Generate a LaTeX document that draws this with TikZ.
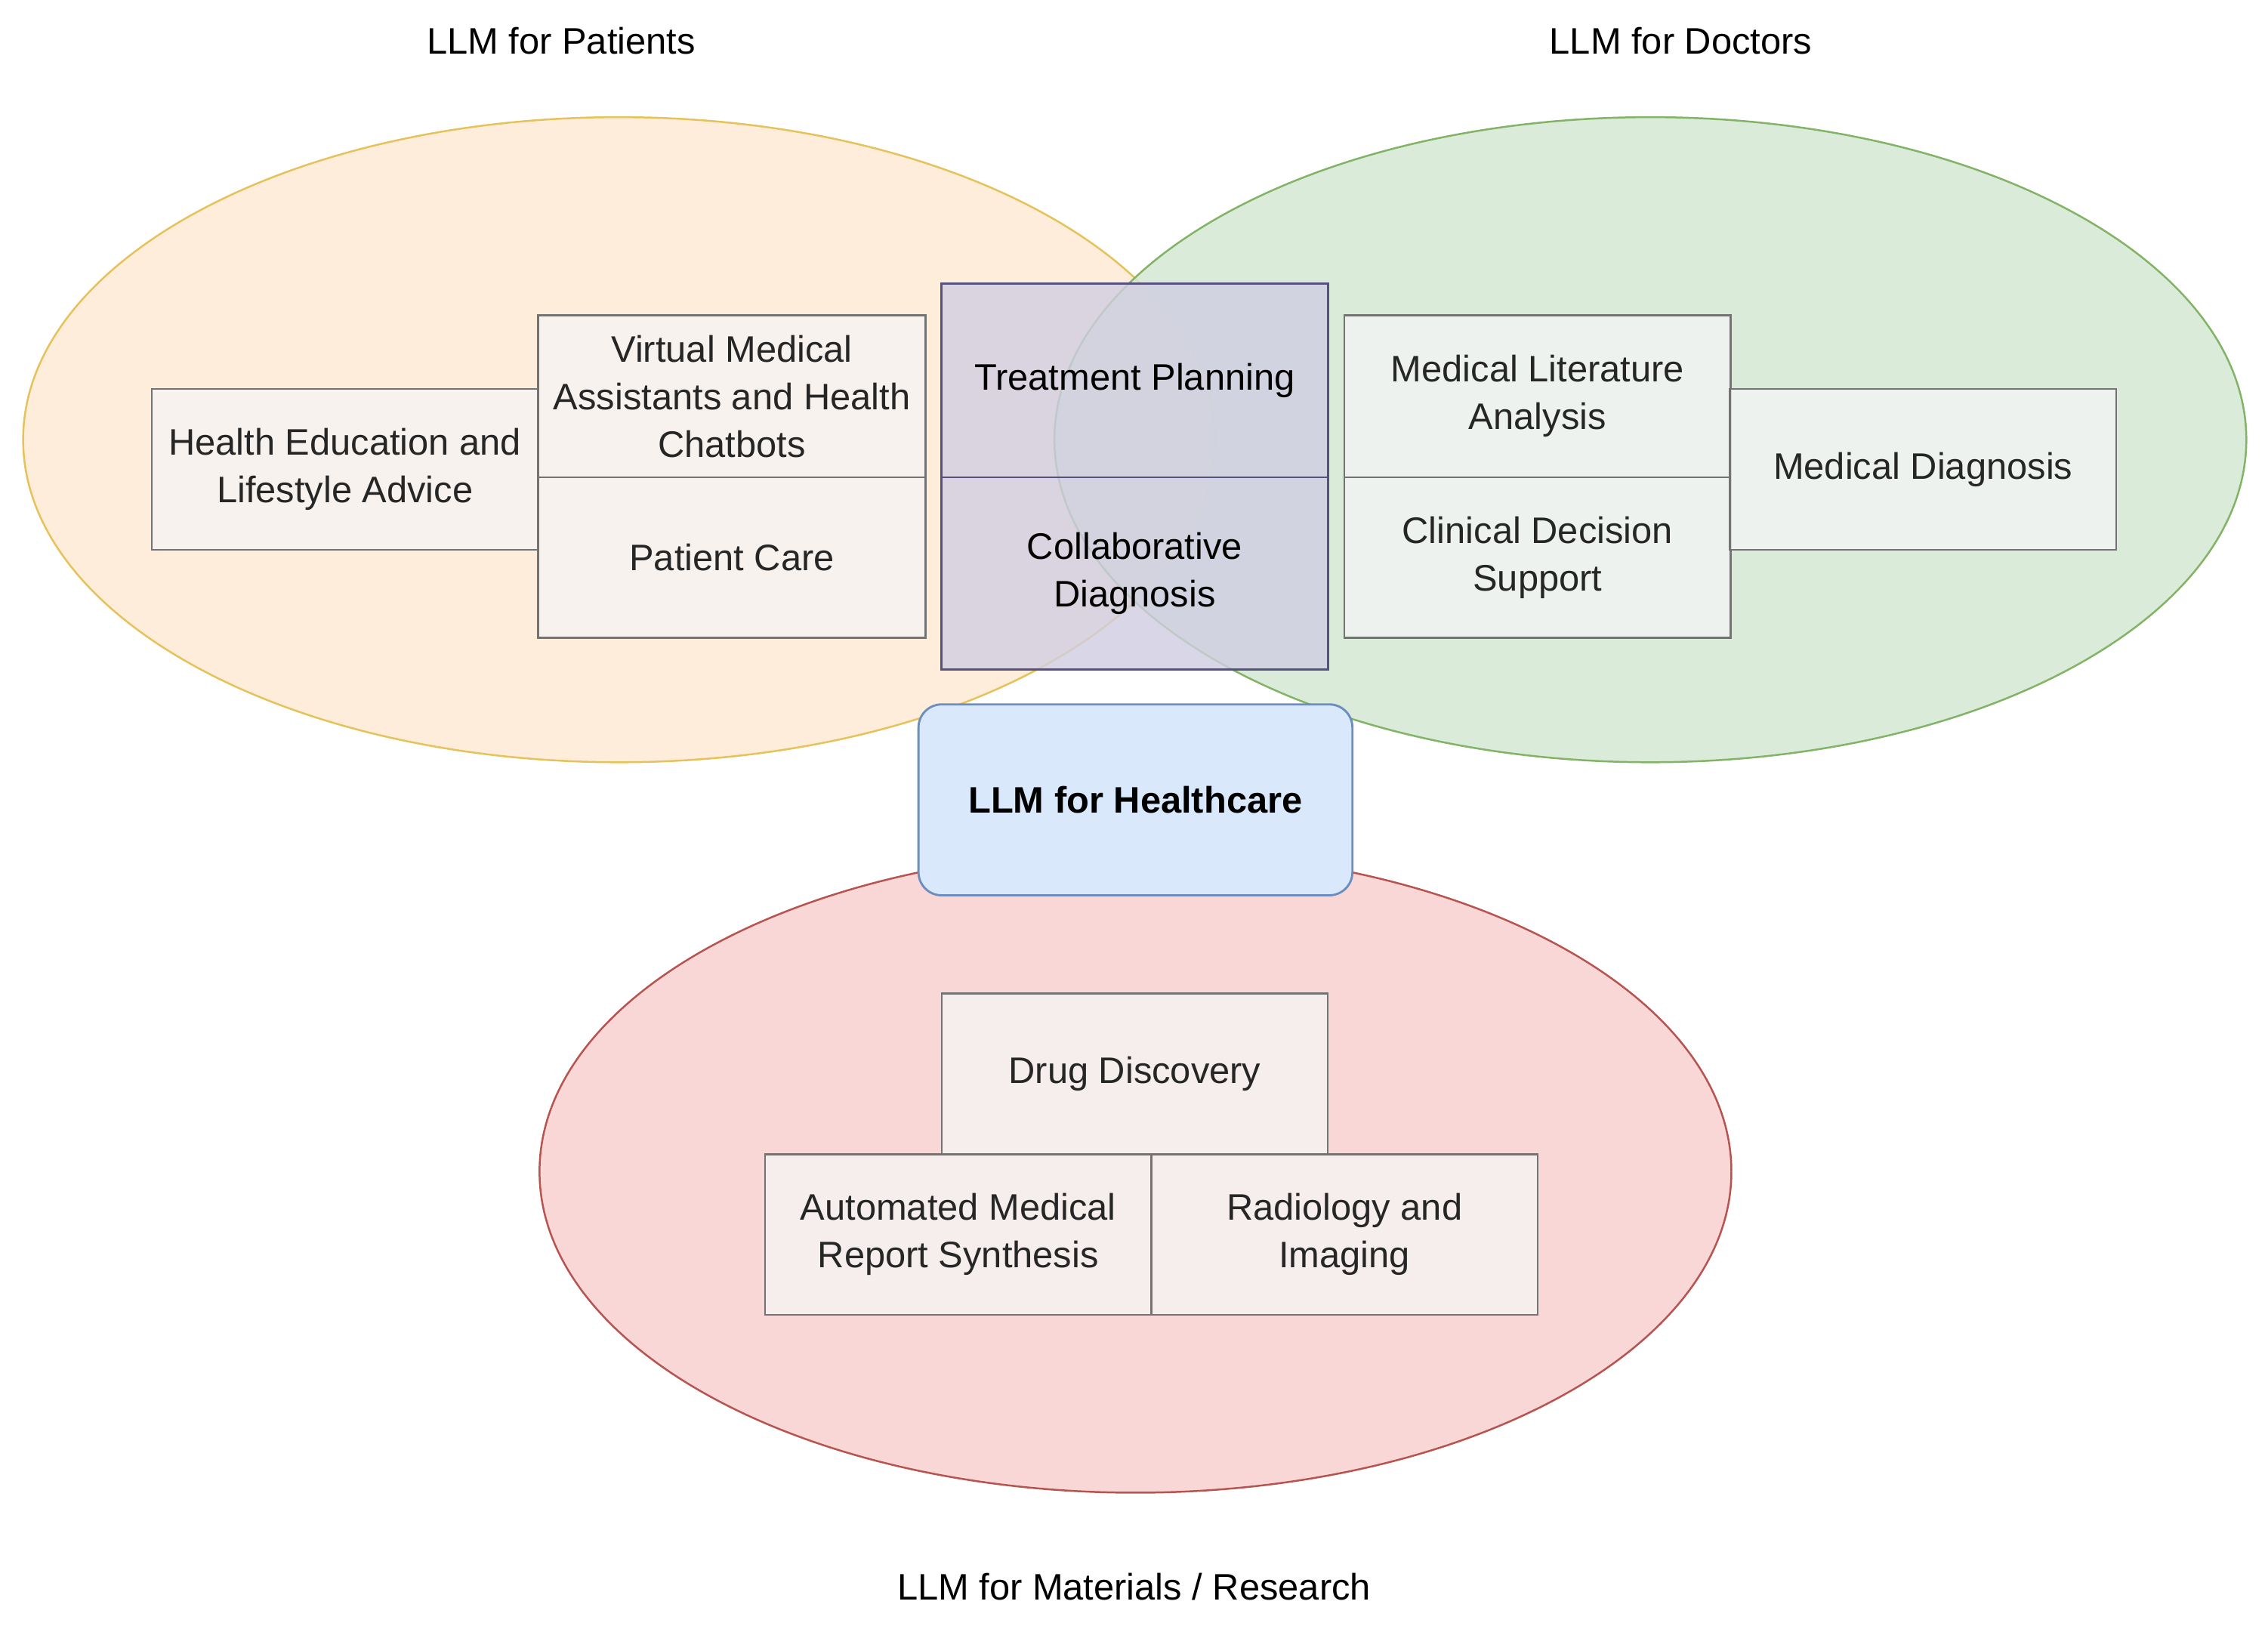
\documentclass[tikz,border=0pt]{standalone}
\usepackage{fontspec}
\setmainfont{Liberation Sans}
\begin{document}
\begin{tikzpicture}[x=1pt,y=-1pt,
  ell/.style={line width=1.3pt},
  box/.style={draw=black!55,line width=1.3pt,fill=black!4,fill opacity=0.75,text opacity=1,align=center,font=\fontsize{25.5}{33}\selectfont,text=black!85,inner sep=0pt},
  pbox/.style={draw=pD,line width=1.5pt,fill=pF,fill opacity=0.8,text opacity=1,align=center,font=\fontsize{25.5}{33}\selectfont,text=black,inner sep=0pt},
  ttl/.style={font=\fontsize{25.5}{30}\selectfont,text=black}]
\definecolor{oF}{HTML}{FFEBD6}\definecolor{oD}{HTML}{E6C25A}
\definecolor{gF}{HTML}{D5E8D4}\definecolor{gD}{HTML}{82B366}
\definecolor{rF}{HTML}{F8CECC}\definecolor{rD}{HTML}{B85450}
\definecolor{bF}{HTML}{DAE8FC}\definecolor{bD}{HTML}{6C8EBF}
\definecolor{pF}{HTML}{D0CEE2}\definecolor{pD}{HTML}{56517E}
\useasboundingbox (0,0) rectangle (1568,1126);
\fill[white] (0,0) rectangle (1568,1126);
\draw[ell,draw=oD,fill=oF,fill opacity=0.85] (428,304) ellipse [x radius=412,y radius=223];
\draw[ell,draw=gD,fill=gF,fill opacity=0.85] (1141,304) ellipse [x radius=412,y radius=223];
\draw[ell,draw=rD,fill=rF,fill opacity=0.8] (785,810) ellipse [x radius=412,y radius=222];
\node[ttl] (t1) at (388,28) {LLM for Patients};
\node[ttl] (t2) at (1162,28) {LLM for Doctors};
\node[ttl] (t3) at (784,1097) {LLM for Materials / Research};
\node[box,minimum width=267,minimum height=111] (he) at (238.5,324.5) {Health Education and\\Lifestyle Advice};
\node[box,minimum width=268,minimum height=112] (vm) at (506,274) {Virtual Medical\\Assistants and Health\\Chatbots};
\node[box,minimum width=268,minimum height=111] (pc) at (506,385.5) {Patient Care};
\node[pbox,minimum width=267,minimum height=134] (tp) at (784.5,263) {Treatment Planning};
\node[pbox,minimum width=267,minimum height=133] (cd) at (784.5,396.5) {Collaborative\\Diagnosis};
\node[box,minimum width=267,minimum height=112] (ml) at (1063,274) {Medical Literature\\Analysis};
\node[box,minimum width=267,minimum height=111] (cs) at (1063,385.5) {Clinical Decision\\Support};
\node[box,minimum width=267,minimum height=111] (md) at (1329.5,324.5) {Medical Diagnosis};
\node[draw=bD,fill=bF,line width=1.5pt,rounded corners=16pt,minimum width=300,minimum height=132,font=\fontsize{25.5}{30}\selectfont\bfseries] (h) at (785,553) {LLM for Healthcare};
\node[box,minimum width=267,minimum height=111] (dd) at (784.5,742.5) {Drug Discovery};
\node[box,minimum width=267,minimum height=111] (am) at (662.5,853.5) {Automated Medical\\Report Synthesis};
\node[box,minimum width=267,minimum height=111] (ri) at (929.5,853.5) {Radiology and\\Imaging};
\end{tikzpicture}
\end{document}
